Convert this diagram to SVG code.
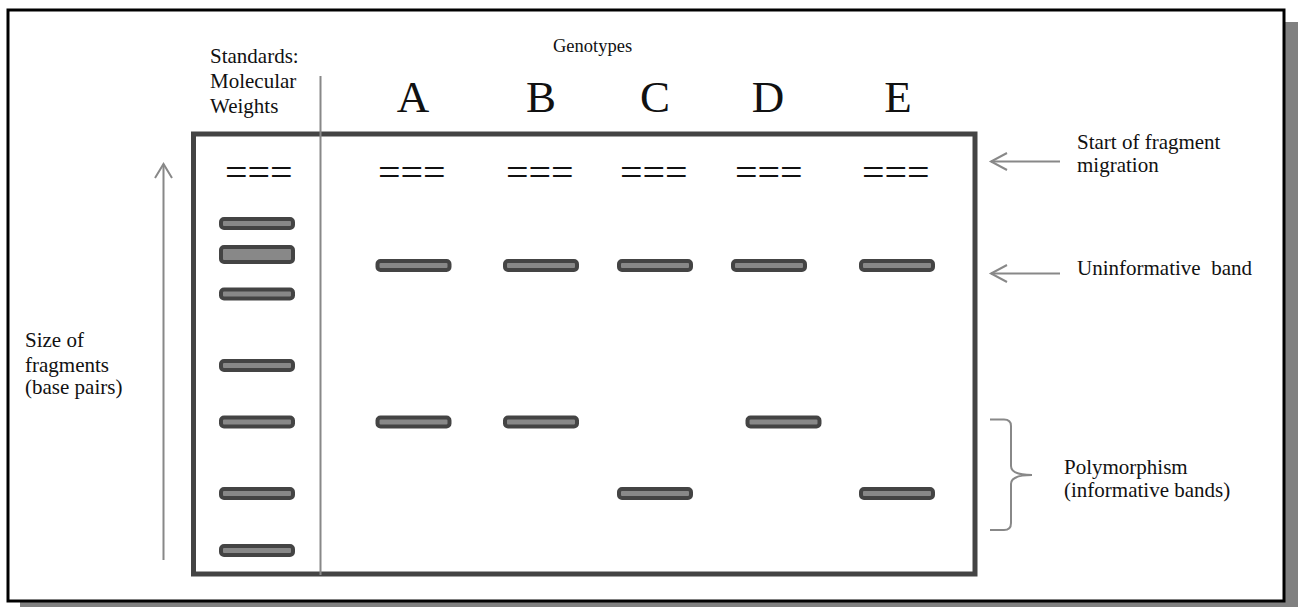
<svg xmlns="http://www.w3.org/2000/svg" width="1300" height="607" viewBox="0 0 1300 607">
<style>
.lbl{font-family:"Liberation Serif","Times New Roman",serif;font-size:21px;fill:#111}
.big{font-family:"Liberation Serif","Times New Roman",serif;font-size:45px;fill:#111;text-anchor:middle}
.eq{font-family:"Liberation Serif","Times New Roman",serif;font-size:40px;fill:#111}
.band{fill:#888;stroke:#444;stroke-width:4}
.conn{fill:none;stroke:#888;stroke-width:2}
</style>
<defs>
<rect id="b" class="band" x="0" y="-4.5" width="72" height="9" rx="3"/>
</defs>
<g id="frame">
<rect x="20" y="22" width="1278" height="591" fill="#808080"/>
<rect x="8" y="10" width="1276" height="591" fill="#fff" stroke="#000" stroke-width="3"/>
</g>
<g id="gel">
<rect x="193.5" y="134" width="781.5" height="440" fill="none" stroke="#444" stroke-width="5"/>
</g>
<g id="connectors">
<line class="conn" x1="320.5" y1="76" x2="320.5" y2="575"/>
<line class="conn" x1="163.5" y1="164" x2="163.5" y2="560"/>
<path class="conn" d="M155,178 L163.5,164 L172,178"/>
<line class="conn" x1="991" y1="161.5" x2="1060" y2="161.5"/>
<path class="conn" d="M1007,153 L991,161.5 L1007,170"/>
<line class="conn" x1="991" y1="273.5" x2="1060" y2="273.5"/>
<path class="conn" d="M1007,265 L991,273.5 L1007,282"/>
<path class="conn" d="M990,419.5 L1004,419.5 Q1011,419.5 1011,426 L1011,466 Q1011,475 1032,475 Q1011,475 1011,484 L1011,523 Q1011,530 1004,530 L990,530"/>
</g>
<g id="labels">
<text class="lbl" x="210" y="62.5">Standards:</text>
<text class="lbl" x="210" y="88">Molecular</text>
<text class="lbl" x="210" y="113">Weights</text>
<text class="lbl" x="553" y="52" style="font-size:18.5px">Genotypes</text>
<text class="big" x="413" y="112">A</text>
<text class="big" x="541" y="112">B</text>
<text class="big" x="655" y="112">C</text>
<text class="big" x="768" y="112">D</text>
<text class="big" x="898" y="112">E</text>
<text class="lbl" x="25" y="347">Size of</text>
<text class="lbl" x="25" y="372">fragments</text>
<text class="lbl" x="25" y="394">(base pairs)</text>
<text class="lbl" x="1077" y="149">Start of fragment</text>
<text class="lbl" x="1077" y="172">migration</text>
<text class="lbl" x="1077" y="275" xml:space="preserve">Uninformative  band</text>
<text class="lbl" x="1064" y="474">Polymorphism</text>
<text class="lbl" x="1064" y="497">(informative bands)</text>
</g>
<g id="lane-standards">
<text class="eq" x="225" y="186">===</text>
<use href="#b" x="221" y="223.5"/>
<rect class="band" x="221" y="247" width="72" height="15" rx="3"/>
<use href="#b" x="221" y="294"/>
<use href="#b" x="221" y="365.5"/>
<use href="#b" x="221" y="422"/>
<use href="#b" x="221" y="493.5"/>
<use href="#b" x="221" y="550.5"/>
</g>
<g id="lane-A">
<text class="eq" x="378" y="186">===</text>
<use href="#b" x="377.5" y="265.5"/>
<use href="#b" x="377.5" y="422"/>
</g>
<g id="lane-B">
<text class="eq" x="506" y="186">===</text>
<use href="#b" x="505" y="265.5"/>
<use href="#b" x="505" y="422"/>
</g>
<g id="lane-C">
<text class="eq" x="620" y="186">===</text>
<use href="#b" x="619" y="265.5"/>
<use href="#b" x="619" y="493.5"/>
</g>
<g id="lane-D">
<text class="eq" x="735" y="186">===</text>
<use href="#b" x="733" y="265.5"/>
<use href="#b" x="747.5" y="422"/>
</g>
<g id="lane-E">
<text class="eq" x="862" y="186">===</text>
<use href="#b" x="861" y="265.5"/>
<use href="#b" x="861" y="493.5"/>
</g>
</svg>
